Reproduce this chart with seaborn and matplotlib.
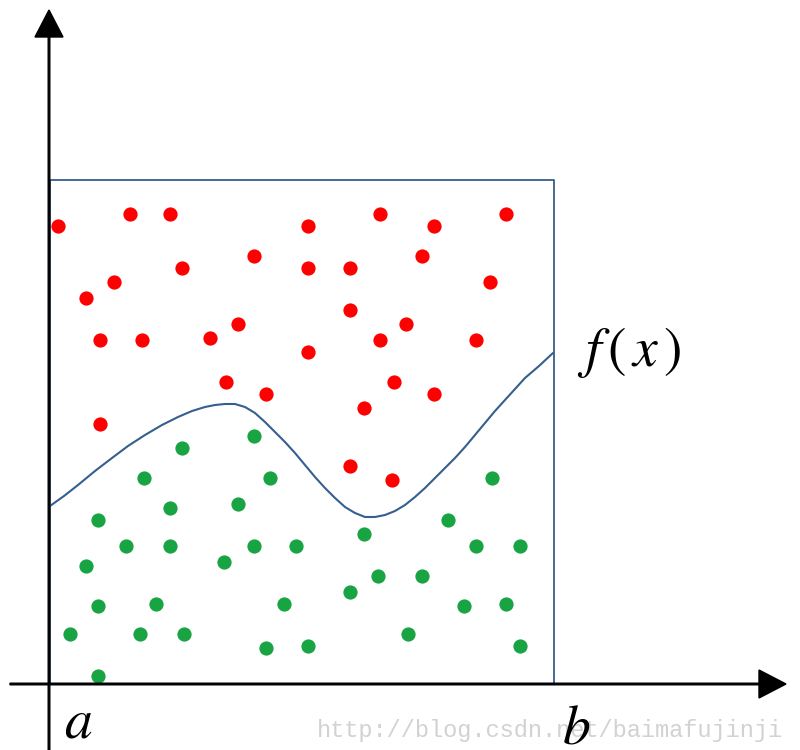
#! /usr/bin/env python3
import seaborn as sns
import pandas as pd
import matplotlib.pyplot as plt

# Figure values in pixel units (y grows downward)
RED_X = [58, 130, 170, 308, 380, 434, 506, 182, 254, 308, 350, 422, 86, 114, 490,
         100, 142, 210, 238, 308, 350, 380, 406, 476, 226, 266, 364, 394, 434, 100,
         350, 392]
RED_Y = [226, 214, 214, 226, 214, 226, 214, 268, 256, 268, 268, 256, 298, 282, 282,
         340, 340, 338, 324, 352, 310, 340, 324, 340, 382, 394, 408, 382, 394, 424,
         466, 480]

GREEN_X = [254, 182, 144, 270, 170, 238, 98, 126, 170, 254, 296, 86, 224, 98, 156,
           284, 70, 140, 184, 266, 308, 98, 492, 448, 364, 476, 520, 378, 422, 350,
           464, 506, 408, 520]
GREEN_Y = [436, 448, 478, 478, 508, 504, 520, 546, 546, 546, 546, 566, 562, 606, 604,
           604, 634, 634, 634, 648, 646, 676, 478, 520, 534, 546, 546, 576, 576, 592,
           606, 604, 634, 646]

CURVE_X = [50, 64, 78, 95, 112, 128, 145, 162, 178, 192, 205, 215, 225, 235, 245,
           255, 265, 275, 285, 295, 305, 315, 325, 335, 345, 355, 365, 375, 385, 395,
           405, 415, 425, 435, 445, 455, 465, 475, 485, 495, 505, 515, 525, 539, 553]
CURVE_Y = [506, 496, 485, 471, 458, 446, 435, 425, 417, 411, 407, 405, 404, 404, 407,
           413, 422, 432, 442, 453, 465, 477, 488, 498, 507, 513, 517, 517, 515, 511,
           505, 497, 488, 478, 468, 458, 447, 435, 423, 411, 400, 389, 378, 366, 353]

BOX_X = [50, 554, 554, 50, 50]
BOX_Y = [684, 684, 180, 180, 684]

WATERMARK = "http://blog.csdn.net/baimafujinji"

LINE_BLUE = "#355f8d"
RED = "#ff0000"
GREEN = "#18a443"


def main():
    sns.set_theme(style='white')
    plt.rcParams['mathtext.fontset'] = 'stix'

    f, ax = plt.subplots(figsize=(8, 7.5), dpi=100)
    ax.set_position([0, 0, 1, 1])
    ax.set_xlim(0, 800)
    ax.set_ylim(750, 0)
    ax.axis('off')

    # box [a, b] x [0, M]
    box = pd.DataFrame({'x': BOX_X, 'y': BOX_Y})
    sns.lineplot(data=box, x='x', y='y', sort=False, estimator=None,
                 color=LINE_BLUE, linewidth=1.3, ax=ax)

    # f(x)
    curve = pd.DataFrame({'x': CURVE_X, 'y': CURVE_Y})
    sns.lineplot(data=curve, x='x', y='y', sort=False, estimator=None,
                 color=LINE_BLUE, linewidth=1.5, solid_joinstyle='round', ax=ax)

    # samples above / below the curve
    red = pd.DataFrame({'x': RED_X, 'y': RED_Y})
    green = pd.DataFrame({'x': GREEN_X, 'y': GREEN_Y})
    sns.scatterplot(data=red, x='x', y='y', color=RED, s=105, linewidth=0, ax=ax)
    sns.scatterplot(data=green, x='x', y='y', color=GREEN, s=105, linewidth=0, ax=ax)

    # axes with arrow heads
    ax.arrow(49, 750, 0, -740, width=1.6, head_width=28, head_length=27,
             length_includes_head=True, color='black', zorder=4)
    ax.arrow(10, 684, 776, 0, width=1.6, head_width=28, head_length=27,
             length_includes_head=True, color='black', zorder=4)

    ax.text(64, 737, r'$a$', fontsize=40, ha='left', va='baseline', color='black')
    ax.text(562, 743, r'$b$', fontsize=40, ha='left', va='baseline', color='black')
    ax.text(577, 352, r'$f\,(\,x\,)$', fontsize=40, ha='left', va='center', color='black')

    ax.text(783, 731, WATERMARK, fontsize=17, family='Liberation Mono',
            color='#d2d2d2', ha='right', va='center', zorder=1)

    ax.set_xlabel('')
    ax.set_ylabel('')
    f.savefig("out.png", dpi=100)


if __name__ == "__main__":
    main()
